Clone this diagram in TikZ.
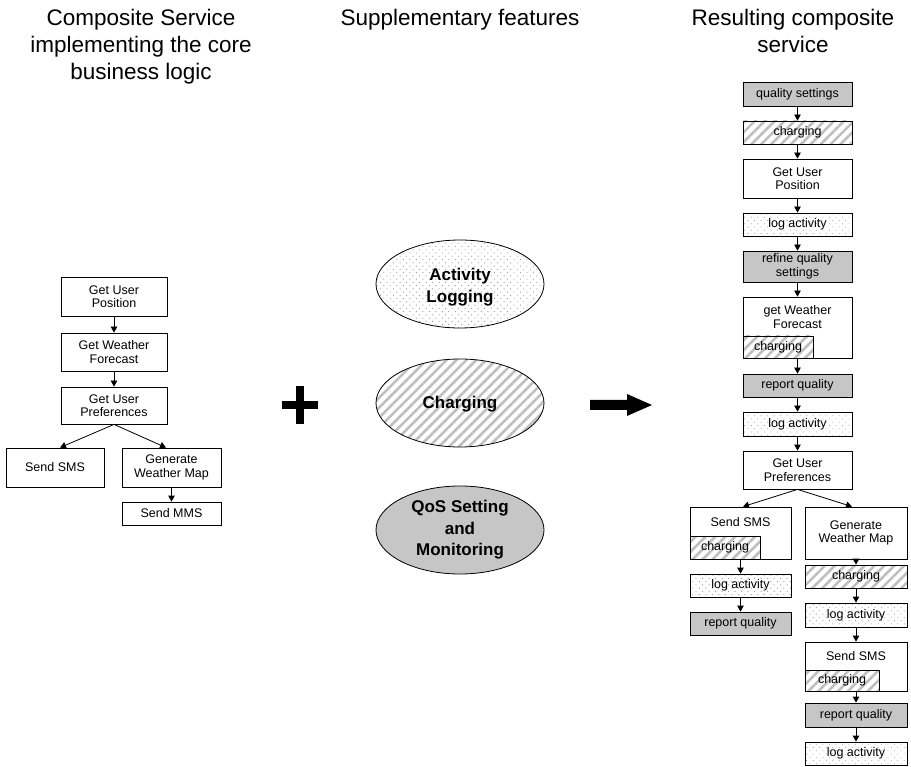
\documentclass[tikz,border=0pt]{standalone}
\usepackage{fontspec}
\setmainfont{Liberation Sans}
\usetikzlibrary{shapes.geometric,arrows.meta,patterns.meta}
\tikzset{
  box/.style={draw, line width=0.8pt, inner sep=0pt, align=center, font=\fontsize{12.5}{13.5}\selectfont},
  txt/.style={inner sep=0pt, align=center, font=\fontsize{12.5}{13.5}\selectfont},
  gbox/.style={box, fill=gray!45},
  hatchfill/.style={pattern={Lines[angle=45,distance=7pt,line width=2.6pt]}, pattern color=gray!50},
  dotfill/.style={pattern={Dots[angle=45,distance=4.6pt,radius=0.6pt]}, pattern color=gray!75},
  hbox/.style={box, hatchfill},
  dbox/.style={box, dotfill},
  rw/.style={minimum width=109pt},
  sw/.style={minimum width=101pt},
  gw/.style={minimum width=102pt},
  lw/.style={minimum width=106pt},
  hh/.style={minimum height=#1},
  arr/.style={line width=0.8pt, -{Triangle[length=6pt,width=6.5pt]}},
  head/.style={anchor=base, inner sep=0pt, font=\fontsize{22.5}{27}\selectfont},
  ell/.style={draw, ellipse, line width=0.8pt, minimum width=168pt, minimum height=88pt, inner sep=0pt},
  elltxt/.style={inner sep=0pt, align=center, font=\fontsize{17}{21.5}\selectfont\bfseries},
}
\begin{document}
\begin{tikzpicture}[x=1pt,y=-1pt]
\useasboundingbox (0,0) rectangle (911,767);

% headers
\node[head] (h1a) at (141,26) {Composite Service};
\node[head] (h1b) at (141,53) {implementing the core};
\node[head] (h1c) at (141,80) {business logic};
\node[head] (h2) at (460,26) {Supplementary features};
\node[head] (h3a) at (793,26) {Resulting composite};
\node[head] (h3b) at (793,53) {service};

% left column
\node[box, lw, hh=39pt] (lp) at (114,296.5) {Get User\\Position};
\node[box, lw, hh=38pt] (lwf) at (114,352) {Get Weather\\Forecast};
\node[box, lw, hh=37pt] (lpref) at (114,405.5) {Get User\\Preferences};
\node[box, minimum width=98pt, hh=39pt] (lsms) at (55,467.5) {Send SMS};
\node[box, minimum width=99pt, hh=39pt] (lgen) at (171.5,467.5) {Generate\\Weather Map};
\node[box, minimum width=99pt, hh=23pt] (lmms) at (171.5,513.5) {Send MMS};
\draw[arr] (lp) -- (lwf);
\draw[arr] (lwf) -- (lpref);
\draw[arr] (lpref.south) -- ([xshift=5pt]lsms.north);
\draw[arr] (lpref.south) -- ([xshift=-5.5pt]lgen.north);
\draw[arr] (lgen) -- (lmms);

% plus
\fill (282,401) rectangle (318,409);
\fill (296,386) rectangle (304,424);

% ellipses
\node[ell, dotfill] (e1) at (460,284) {};
\node[elltxt] (e1t) at (460,287) {Activity\\Logging};
\node[ell, hatchfill] (e2) at (460,403) {};
\node[elltxt] (e2t) at (460,404) {Charging};
\node[ell, fill=gray!45] (e3) at (460,530) {};
\node[elltxt] (e3t) at (460,530) {QoS Setting\\and\\Monitoring};

% big arrow
\fill (590,400) -- (627,400) -- (627,394) -- (652,405) -- (627,416) -- (627,410) -- (590,410) -- cycle;

% right column
\node[gbox, rw, hh=24pt] (r1) at (797.5,94) {quality settings};
\node[hbox, rw, hh=23pt] (r2) at (797.5,132.5) {charging};
\node[box, rw, hh=39pt] (r3) at (797.5,178.5) {Get User\\Position};
\node[dbox, rw, hh=23pt] (r4) at (797.5,224.5) {log activity};
\node[gbox, rw, hh=31pt] (r5) at (797.5,266.5) {refine quality\\settings};
\node[box, rw, hh=61pt] (r6) at (797.5,327.5) {};
\node[txt] (r6t) at (797.5,317) {get Weather\\Forecast};
\node[hbox, minimum width=70pt, hh=22pt, anchor=south west] (r6c) at (r6.south west) {charging};
\node[gbox, rw, hh=23pt] (r7) at (797.5,385.5) {report quality};
\node[dbox, rw, hh=24pt] (r8) at (797.5,424) {log activity};
\node[box, rw, hh=38pt] (r9) at (797.5,470) {Get User\\Preferences};
\draw[arr] (r1) -- (r2);
\draw[arr] (r2) -- (r3);
\draw[arr] (r3) -- (r4);
\draw[arr] (r4) -- (r5);
\draw[arr] (r5) -- (r6);
\draw[arr] (r6) -- (r7);
\draw[arr] (r7) -- (r8);
\draw[arr] (r8) -- (r9);

% left branch
\node[box, sw, hh=52pt] (s1) at (740.5,533) {};
\node[txt] (s1t) at (740.5,522) {Send SMS};
\node[hbox, minimum width=70pt, hh=23pt, anchor=south west] (s1c) at (s1.south west) {charging};
\node[dbox, sw, hh=23pt] (s2) at (740.5,585.5) {log activity};
\node[gbox, sw, hh=23pt] (s3) at (740.5,623.5) {report quality};
\draw[arr] (r9.south) -- ([xshift=2.5pt]s1.north);
\draw[arr] (s1) -- (s2);
\draw[arr] (s2) -- (s3);

% right branch
\node[box, gw, hh=52pt] (g1) at (856,533) {Generate\\Weather Map};
\node[hbox, gw, hh=23pt] (g2) at (856,576.5) {charging};
\node[dbox, gw, hh=24pt] (g3) at (856,615) {log activity};
\node[box, gw, hh=49pt] (g4) at (856,666.5) {};
\node[txt] (g4t) at (856,656) {Send SMS};
\node[hbox, minimum width=74pt, hh=21pt, anchor=south west] (g4c) at (g4.south west) {charging};
\node[gbox, gw, hh=24pt] (g5) at (856,715) {report quality};
\node[dbox, gw, hh=23pt] (g6) at (856,753.5) {log activity};
\draw[arr] (r9.south) -- ([xshift=-4pt]g1.north);
\draw[arr] (g1) -- (g2);
\draw[arr] (g2) -- (g3);
\draw[arr] (g3) -- (g4);
\draw[arr] (g4) -- (g5);
\draw[arr] (g5) -- (g6);
\end{tikzpicture}
\end{document}
